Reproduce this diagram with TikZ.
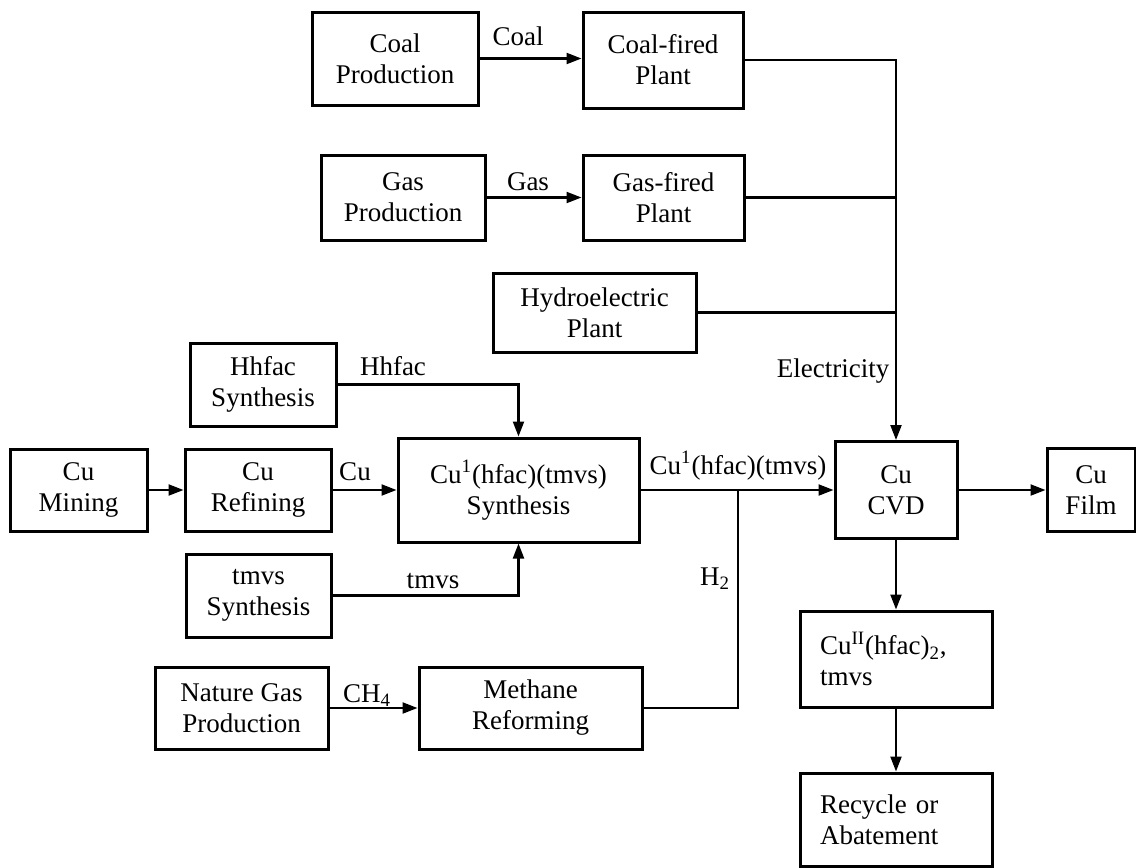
\documentclass[tikz,border=0pt]{standalone}
\usepackage{fontspec}
\setmainfont{Liberation Serif}
\usetikzlibrary{arrows.meta}

\begin{document}
\begin{tikzpicture}[>={Triangle[length=7.5pt,width=5.5pt]}, x=0.5pt, y=-0.5pt,
    font=\fontsize{13.5}{15.5}\selectfont,
    box/.style={draw, line width=1.5pt, align=center, inner sep=0pt},
    leftbox/.style={box, align=left, inner xsep=10pt, text width=76pt},
    lbl/.style={anchor=base, inner sep=0pt},
    flow/.style={line width=1.1pt}]
\useasboundingbox (0,0) rectangle (1136,868);

% power plants
\node[box, minimum width=83pt, minimum height=46.5pt] (coalprod) at (395,58.5) {Coal\\Production};
\node[box, minimum width=80pt, minimum height=48pt] (coalplant) at (663,60) {Coal-fired\\Plant};
\node[box, minimum width=82pt, minimum height=42.5pt] (gasprod) at (403,197.5) {Gas\\Production};
\node[box, minimum width=80.5pt, minimum height=42.5pt] (gasplant) at (663.5,197.5) {Gas-fired\\Plant};
\node[box, minimum width=101.5pt, minimum height=39.5pt] (hydro) at (594.5,312.5) {Hydroelectric\\Plant};

% precursor chain
\node[box, minimum width=73pt, minimum height=41.5pt] (hhfac) at (263,384.5) {Hhfac\\Synthesis};
\node[box, minimum width=68.5pt, minimum height=41pt] (mining) at (78.5,490) {Cu\\Mining};
\node[box, minimum width=73pt, minimum height=41pt] (refining) at (258,490) {Cu\\Refining};
\node[box, minimum width=120.5pt, minimum height=52pt] (synth) at (518.5,490) {Cu\textsuperscript{1}(hfac)(tmvs)\\Synthesis};
\node[box, minimum width=72.5pt, minimum height=41.5pt] (tmvs) at (258.5,595.5) {tmvs\\Synthesis};
\node[box, minimum width=86.5pt, minimum height=41pt] (natgas) at (241.5,708) {Nature Gas\\Production};
\node[box, minimum width=111.5pt, minimum height=41pt] (methane) at (530.5,708) {Methane\\Reforming};

% deposition
\node[box, minimum width=61pt, minimum height=48.5pt] (cvd) at (896,490) {Cu\\CVD};
\node[box, minimum width=44pt, minimum height=41.5pt] (film) at (1091,490) {Cu\\Film};
\node[leftbox, minimum height=48pt] (byprod) at (896,659) {Cu\textsuperscript{II}(hfac)\textsubscript{2},\\tmvs};
\node[leftbox, minimum height=46.5pt] (recycle) at (896,819.5) {Recycle or\\Abatement};

% connectors
\draw[flow,->] (coalprod.east) -- (coalprod.east -| coalplant.west);
\draw[flow,->] (gasprod.east) -- (gasprod.east -| gasplant.west);
\draw[flow,->] (coalplant.east) -| (cvd.north);
\draw[flow] (gasplant.east) -- (gasplant.east -| cvd.north);
\draw[flow] (hydro.east) -- (hydro.east -| cvd.north);
\draw[flow,->] (hhfac.east) -| (synth.north);
\draw[flow,->] (tmvs.east) -| (synth.south);
\draw[flow,->] (mining) -- (refining);
\draw[flow,->] (refining) -- (synth);
\draw[flow,->] (synth) -- (cvd);
\coordinate (h2join) at (738,490);
\draw[flow] (methane.east) -| (h2join);
\draw[flow,->] (natgas) -- (methane);
\draw[flow,->] (cvd) -- (film);
\draw[flow,->] (cvd) -- (byprod);
\draw[flow,->] (byprod) -- (recycle);

% labels
\node[lbl] (coallbl) at (518,45) {Coal};
\node[lbl] (gaslbl) at (528,190) {Gas};
\node[lbl] (hhfaclbl) at (393,375) {Hhfac};
\node[lbl] (culbl) at (355,480) {Cu};
\node[lbl] (tmvslbl) at (433,588) {tmvs};
\node[lbl] (ch4lbl) at (367,702) {CH\textsubscript{4}};
\node[lbl] (preclbl) at (738,474) {Cu\textsuperscript{1}(hfac)(tmvs)};
\node[lbl] (h2lbl) at (715,585) {H\textsubscript{2}};
\node[lbl] (eleclbl) at (833,377) {Electricity};

\end{tikzpicture}
\end{document}
